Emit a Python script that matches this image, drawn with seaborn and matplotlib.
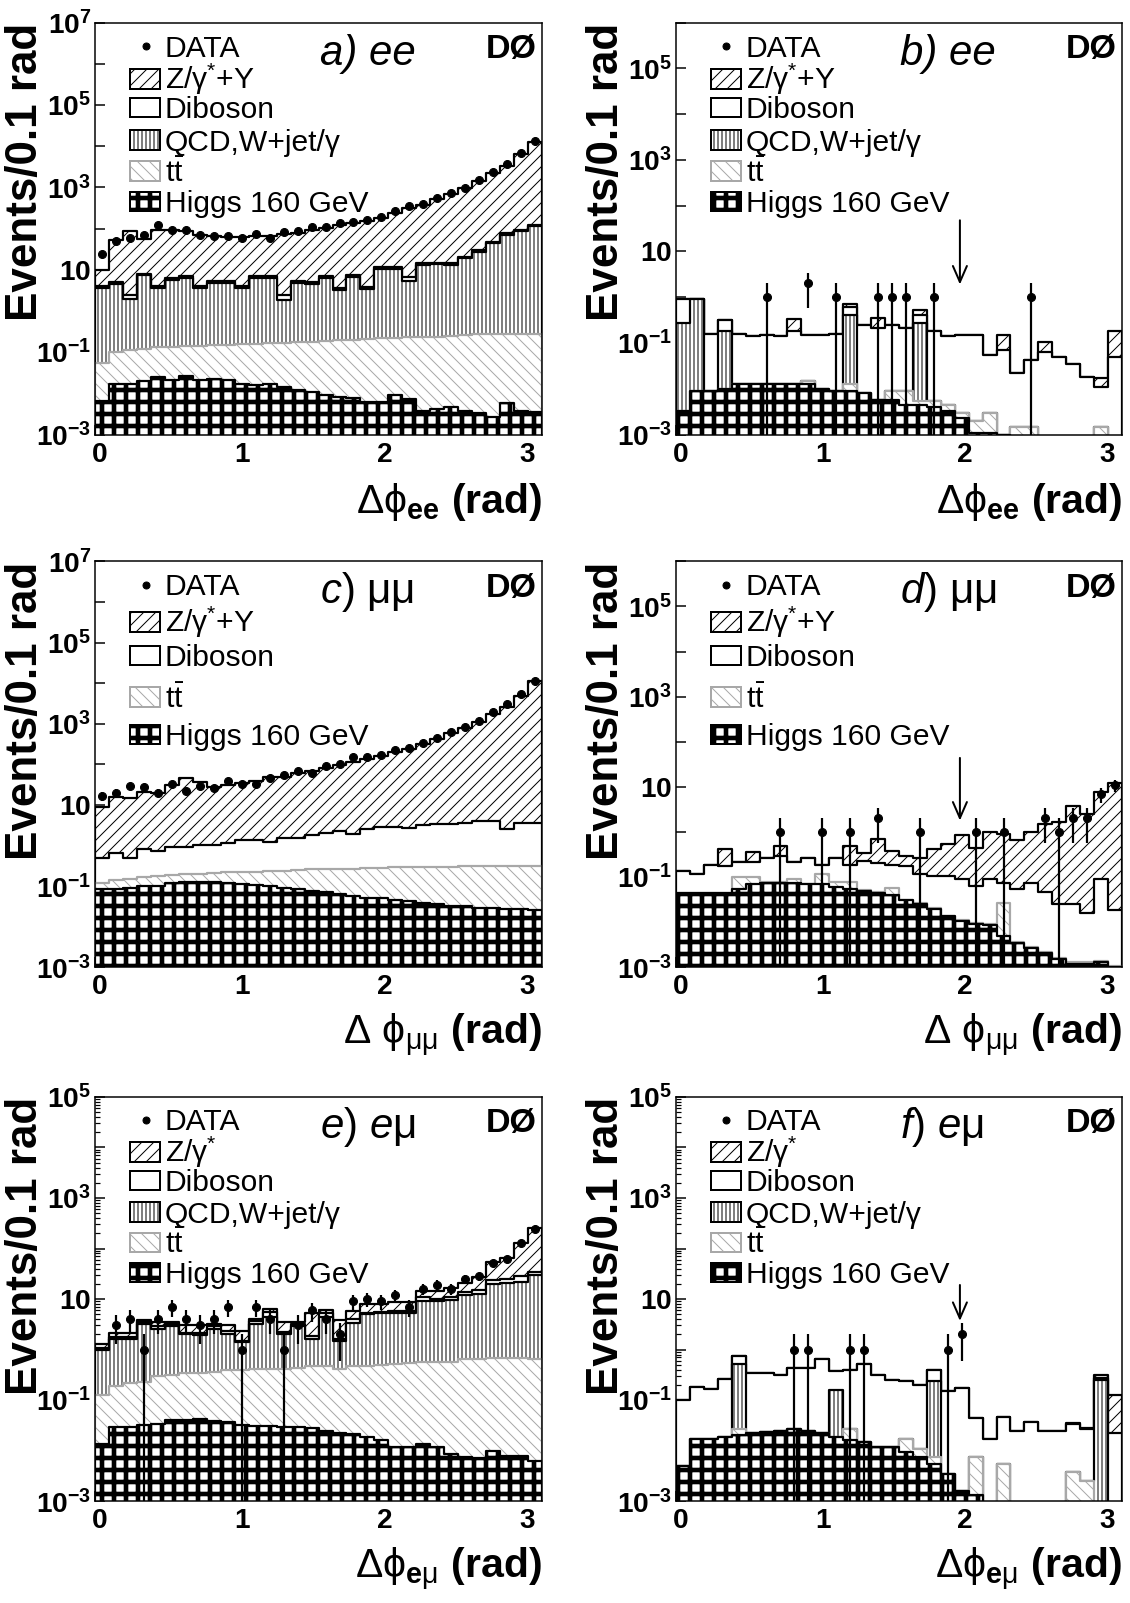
import numpy as np
import matplotlib
matplotlib.use("Agg")
import matplotlib.pyplot as plt
from matplotlib.patches import Rectangle
from matplotlib.transforms import ScaledTranslation
import seaborn as sns

# ------------------------------------------------------------------ data
N_BINS = 32
EDGES = np.linspace(0.0, np.pi, N_BINS + 1)
CENTERS = 0.5 * (EDGES[:-1] + EDGES[1:])

# Stacked heights (top of each layer): HIGGS <= TT <= QCD <= DIB <= Z

# ---- a) ee, preselection
A_DATA = [24, 49, 59, 71, 120, 94, 94, 68, 67, 67, 60, 73, 60, 82, 85, 107,
          112, 136, 144, 165, 195, 263, 350, 398, 560, 740, 980, 1500, 2350, 3600, 7000, 13500]
A_Z = [10, 52, 85, 55, 90, 90, 88, 70, 65, 62, 62, 65, 65, 75, 80, 95,
       105, 120, 135, 155, 185, 240, 310, 370, 520, 700, 950, 1400, 2200, 3300, 6500, 12500]
A_DIB = [4.0, 5.0, 2.4, 8.0, 4.0, 6.2, 7.0, 4.0, 5.2, 5.2, 4.0, 7.0, 7.0, 2.4, 5.2, 5.0,
         7.0, 3.6, 7.4, 3.8, 12, 12, 6.6, 14.5, 15, 14.5, 21, 30, 48, 78, 93, 124]
A_QCD = [3.6, 4.4, 2.0, 7.4, 3.6, 5.6, 6.2, 3.6, 4.7, 4.7, 3.6, 6.3, 6.3, 1.8, 4.7, 4.4,
         6.3, 3.2, 6.6, 3.4, 10.7, 10.7, 5.4, 13, 13.5, 13, 19, 27.5, 44, 71, 85, 113]
A_TT = [0.055, 0.10, 0.11, 0.12, 0.13, 0.13, 0.14, 0.14, 0.15, 0.15, 0.16, 0.16, 0.17, 0.17, 0.18, 0.18,
        0.19, 0.20, 0.20, 0.21, 0.22, 0.22, 0.23, 0.24, 0.24, 0.25, 0.26, 0.27, 0.27, 0.28, 0.28, 0.27]
A_HIGGS = [0.0065, 0.017, 0.017, 0.020, 0.025, 0.021, 0.026, 0.021, 0.022, 0.021, 0.017, 0.016,
           0.017, 0.014, 0.012, 0.011, 0.0092, 0.0080, 0.0078, 0.0062, 0.0062, 0.0091, 0.0072, 0.0037,
           0.0042, 0.0046, 0.0037, 0.0034, 0.0027, 0.0059, 0.0038, 0.0036]

# ---- b) ee, final selection
B_DATA = [0, 0, 0, 0, 0, 0, 1, 0, 0, 2, 0, 1, 0, 0, 1, 1,
          1, 0, 1, 0, 0, 0, 0, 0, 0, 1, 0, 0, 0, 0, 0, 0]
B_Z = [0.92, 0.90, 0.16, 0.32, 0.16, 0.14, 0.15, 0.14, 0.33, 0.15, 0.15, 0.16, 0.70, 0.25, 0.35, 0.25,
       0.21, 0.53, 0.18, 0.14, 0.15, 0.15, 0.054, 0.15, 0.022, 0.042, 0.107, 0.05, 0.034, 0.018, 0.017, 0.18]
B_DIB = [0.92, 0.90, 0.16, 0.32, 0.16, 0.14, 0.15, 0.14, 0.18, 0.15, 0.15, 0.16, 0.61, 0.25, 0.21, 0.25,
         0.21, 0.40, 0.18, 0.14, 0.15, 0.15, 0.054, 0.07, 0.022, 0.042, 0.064, 0.05, 0.034, 0.018, 0.011, 0.05]
B_QCD = [0.27, 0.90, 0.009, 0.18, 0.013, 0.013, 0.013, 0.013, 0.013, 0.015, 0.010, 0.009, 0.41, 0.008, 0.0057, 0.009,
         0.009, 0.27, 0.0055, 0.0045, 0.003, 0.002, 0.003, 0.001, 0.0015, 0.0015, 0, 0, 0, 0, 0.0015, 0]
B_TT = [0.0033, 0.009, 0.009, 0.010, 0.013, 0.013, 0.013, 0.013, 0.013, 0.015, 0.010, 0.009, 0.013, 0.008, 0.0057, 0.009,
        0.009, 0.0055, 0.0055, 0.0045, 0.003, 0.002, 0.003, 0.001, 0.0015, 0.0015, 0, 0, 0, 0, 0.0015, 0]
B_HIGGS = [0.0033, 0.009, 0.009, 0.010, 0.013, 0.013, 0.013, 0.013, 0.013, 0.013, 0.010, 0.009, 0.009, 0.008, 0.0057, 0.0057,
           0.0045, 0.0045, 0.004, 0.0033, 0.0023, 0.0011, 0.0011, 0.001, 0, 0, 0, 0, 0, 0, 0, 0]

# ---- c) mumu, preselection
C_DATA = [17, 20, 30, 28, 20, 32, 22, 30, 26, 40, 32, 33, 47, 54, 69, 62,
          91, 100, 148, 153, 174, 230, 250, 340, 455, 630, 850, 1200, 1950, 3100, 5400, 11500]
C_Z = [9, 16, 14.5, 21, 20, 31, 45, 37, 28, 31, 34, 40, 49, 49, 60, 68,
       83, 95, 115, 138, 158, 203, 245, 325, 430, 590, 800, 1100, 1750, 2650, 4900, 11500]
C_DIB = [0.49, 0.66, 0.49, 0.82, 0.75, 0.91, 0.91, 1.05, 1.05, 1.15, 1.34, 1.34, 1.25, 1.58, 1.58, 1.84,
         2.0, 2.35, 1.95, 2.5, 2.8, 2.9, 2.7, 3.25, 3.4, 3.5, 3.7, 4.0, 4.1, 2.6, 3.6, 3.6]
C_TT = [0.12, 0.14, 0.15, 0.17, 0.18, 0.19, 0.20, 0.20, 0.21, 0.22, 0.22, 0.23, 0.24, 0.24, 0.25, 0.26,
        0.26, 0.27, 0.27, 0.28, 0.28, 0.29, 0.29, 0.30, 0.30, 0.30, 0.31, 0.31, 0.32, 0.32, 0.32, 0.32]
C_HIGGS = [0.083, 0.083, 0.09, 0.10, 0.10, 0.12, 0.13, 0.13, 0.13, 0.12, 0.115, 0.105, 0.10, 0.09, 0.083, 0.075,
           0.07, 0.063, 0.057, 0.052, 0.05, 0.045, 0.043, 0.039, 0.036, 0.033, 0.032, 0.029, 0.029, 0.027, 0.027, 0.026]

# ---- d) mumu, final selection
D_DATA = [0, 0, 0, 0, 0, 0, 0, 1, 0, 0, 1, 0, 1, 0, 2, 0,
          0, 1, 0, 0, 0, 1, 0, 1, 0, 0, 2, 1, 2, 2, 7, 11]
D_Z = [0.14, 0.12, 0.19, 0.43, 0.22, 0.37, 0.27, 0.50, 0.22, 0.27, 0.19, 0.27, 0.50, 0.35, 0.69, 0.39,
       0.30, 0.27, 0.43, 0.55, 0.87, 0.45, 1.0, 0.9, 0.68, 1.0, 1.5, 1.7, 3.7, 2.5, 7.7, 12]
D_DIB = [0.14, 0.12, 0.19, 0.18, 0.22, 0.22, 0.27, 0.30, 0.22, 0.27, 0.19, 0.27, 0.19, 0.23, 0.21, 0.19,
         0.18, 0.117, 0.108, 0.108, 0.093, 0.065, 0.09, 0.076, 0.054, 0.076, 0.046, 0.025, 0.025, 0.016, 0.09, 0.019]
D_TT = [0.045, 0.045, 0.045, 0.045, 0.10, 0.10, 0.078, 0.078, 0.09, 0.072, 0.12, 0.08, 0.08, 0.052, 0.046, 0.058,
        0.032, 0.027, 0.021, 0.014, 0.011, 0.0095, 0.009, 0.027, 0.0037, 0.0028, 0.0022, 0.0016, 0.0013, 0.0013, 0.0014, 0.0011]
D_HIGGS = [0.045, 0.045, 0.045, 0.045, 0.054, 0.07, 0.076, 0.076, 0.074, 0.07, 0.07, 0.062, 0.054, 0.05, 0.045, 0.04,
           0.031, 0.026, 0.02, 0.0135, 0.0105, 0.009, 0.0085, 0.0049, 0.0035, 0.0027, 0.0021, 0.0015, 0.0012, 0.0012, 0.0013, 0.001]

# ---- e) emu, preselection
E_DATA = [0, 3, 4, 1, 4, 7, 4, 3, 4, 7, 1, 7, 4, 1, 3, 6,
          4, 2, 9, 10, 9, 12, 7, 16, 19, 16, 25, 28, 51, 63, 130, 240]
E_Z = [1.28, 2.15, 2.15, 3.9, 3.5, 3.5, 3.05, 3.05, 3.2, 3.05, 2.35, 4.0, 6.4, 3.5, 3.5, 5.4,
       6.0, 3.8, 5.7, 8.1, 8.1, 8.6, 8.8, 14.5, 14.5, 16.6, 20.5, 27.7, 55, 66, 130, 255]
E_DIB = [1.09, 1.74, 1.74, 3.5, 2.9, 3.2, 2.15, 2.15, 2.9, 2.35, 1.48, 3.7, 5.5, 2.2, 3.2, 1.88,
         5.4, 1.6, 4.1, 5.4, 5.6, 5.8, 5.8, 11, 10, 11, 13.8, 14.8, 23.6, 25, 28, 35]
E_QCD = [1.0, 1.6, 1.6, 3.2, 2.5, 2.9, 2.0, 1.95, 2.5, 2.0, 1.4, 3.2, 4.4, 2.0, 2.9, 1.6,
         4.4, 1.5, 3.4, 5.1, 5.2, 5.2, 5.2, 9.0, 9.0, 9.4, 11.8, 12.5, 20, 20.5, 21.5, 30]
E_TT = [0.127, 0.19, 0.22, 0.23, 0.30, 0.31, 0.34, 0.35, 0.36, 0.40, 0.40, 0.41, 0.42, 0.42, 0.44, 0.47,
        0.48, 0.42, 0.47, 0.48, 0.50, 0.53, 0.55, 0.56, 0.58, 0.58, 0.66, 0.66, 0.68, 0.68, 0.68, 0.66]
E_HIGGS = [0.0137, 0.029, 0.029, 0.032, 0.034, 0.041, 0.041, 0.043, 0.039, 0.037, 0.032, 0.031, 0.031, 0.030, 0.029, 0.028,
           0.025, 0.022, 0.021, 0.019, 0.016, 0.0117, 0.0117, 0.0137, 0.0117, 0.0086, 0.0076, 0.0073, 0.0097, 0.008, 0.008, 0.0063]

# ---- f) emu, final selection
F_DATA = [0, 0, 0, 0, 0, 0, 0, 0, 1, 1, 0, 0, 1, 1, 0, 0,
          0, 0, 0, 1, 2, 0, 0, 0, 0, 0, 0, 0, 0, 0, 0, 0]
F_Z = [0.10, 0.18, 0.166, 0.26, 0.745, 0.35, 0.35, 0.32, 0.43, 0.43, 0.64, 0.37, 0.40, 0.53, 0.32, 0.25,
       0.235, 0.20, 0.40, 0.155, 0.17, 0.044, 0.0174, 0.047, 0.025, 0.037, 0.025, 0.025, 0.036, 0.028, 0.31, 0.127]
F_DIB = [0.10, 0.18, 0.166, 0.26, 0.745, 0.35, 0.35, 0.32, 0.43, 0.43, 0.64, 0.37, 0.40, 0.53, 0.32, 0.25,
         0.235, 0.20, 0.40, 0.155, 0.17, 0.044, 0.0174, 0.047, 0.025, 0.037, 0.025, 0.025, 0.034, 0.027, 0.27, 0.022]
F_QCD = [0.005, 0.017, 0.017, 0.019, 0.51, 0.022, 0.023, 0.024, 0.027, 0.024, 0.022, 0.16, 0.027, 0.015, 0.012, 0.012,
         0.017, 0.011, 0.235, 0.0034, 0.0016, 0.0074, 0, 0.0055, 0, 0, 0, 0, 0.0037, 0.0025, 0.25, 0]
F_TT = [0.005, 0.017, 0.017, 0.019, 0.027, 0.022, 0.023, 0.024, 0.027, 0.024, 0.022, 0.019, 0.027, 0.015, 0.012, 0.012,
        0.017, 0.011, 0.0074, 0.0034, 0.0016, 0.0074, 0, 0.0055, 0, 0, 0, 0, 0.0037, 0.0025, 0, 0]
F_HIGGS = [0.005, 0.017, 0.017, 0.019, 0.020, 0.022, 0.023, 0.024, 0.027, 0.024, 0.022, 0.019, 0.016, 0.015, 0.012, 0.012,
           0.0093, 0.0074, 0.0055, 0.0034, 0.0016, 0.0013, 0, 0, 0, 0, 0, 0, 0, 0, 0, 0]

# cut arrows (x, y_start, y_tip) for the final-selection panels
ARROW_B = (2.0, 48.0, 1.9)
ARROW_D = (2.0, 44.0, 1.8)
ARROW_F = (2.0, 19.0, 3.7)

# ------------------------------------------------------------------ text
LBL_Z_Y = "Z/γ$^{*}$+Υ"
LBL_Z = "Z/γ$^{*}$"
LBL_DIB = "Diboson"
LBL_QCD = "QCD,W+jet/γ"
LBL_TT = r"$\mathrm{t\bar{t}}$"
LBL_H = "Higgs 160 GeV"
YTITLE = "Events/0.1 rad"
XT_EE = r"$\Delta\mathrm{\phi}_{\mathbf{ee}}$ (rad)"
XT_MM = r"$\Delta\ \mathrm{\phi}_{\mathrm{\mu\mu}}$ (rad)"
XT_EM = r"$\Delta\mathrm{\phi}_{\mathbf{e}\mathrm{\mu}}$ (rad)"

# ------------------------------------------------------------------ style
sns.set_theme(style="white")
plt.rcParams.update({
    "font.family": ["Liberation Sans", "DejaVu Sans"],
    "mathtext.fontset": "custom",
    "mathtext.rm": "Liberation Sans",
    "mathtext.it": "Liberation Sans:italic",
    "mathtext.bf": "Liberation Sans:bold",
    "mathtext.sf": "Liberation Sans",
    "text.color": "black",
    "axes.labelcolor": "black",
    "xtick.color": "black",
    "ytick.color": "black",
    "axes.edgecolor": "black",
    "axes.linewidth": 1.5,
    "hatch.linewidth": 1.0,
})

DPI = 72
LW = 2.2
STYLES = {
    "z": dict(facecolor="white", edgecolor="black", hatch="//", hlw=1.0),
    "dib": dict(facecolor="white", edgecolor="black", hatch=None, hlw=1.0),
    "qcd": dict(facecolor="white", edgecolor="black", hatch="|||", hlw=1.0),
    "tt": dict(facecolor="white", edgecolor="#a8a8a8", hatch="\\\\", hlw=1.0),
    "higgs": dict(facecolor="white", edgecolor="black", hatch="+", hlw=4.6),
}

LEG5 = [0.943, 0.864, 0.794, 0.715, 0.640, 0.566]
LEG4 = [0.943, 0.851, 0.768, 0.666, 0.573]

PANELS = [
    dict(pos=[0.0841, 0.7289, 0.3956, 0.2570], data=A_DATA, z=A_Z, dib=A_DIB, qcd=A_QCD, tt=A_TT, higgs=A_HIGGS,
         ytop=7, minor=False, tag="a) ee", tag_style="italic", xt=XT_EE, zlabel=LBL_Z_Y, arrow=None, leg=LEG5),
    dict(pos=[0.5982, 0.7289, 0.3947, 0.2570], data=B_DATA, z=B_Z, dib=B_DIB, qcd=B_QCD, tt=B_TT, higgs=B_HIGGS,
         ytop=6, minor=False, tag="b) ee", tag_style="italic", xt=XT_EE, zlabel=LBL_Z_Y, arrow=ARROW_B, leg=LEG5),
    dict(pos=[0.0841, 0.3965, 0.3956, 0.2533], data=C_DATA, z=C_Z, dib=C_DIB, qcd=None, tt=C_TT, higgs=C_HIGGS,
         ytop=7, minor=False, tag=r"$\mathit{c)}$ μμ", tag_style="normal", xt=XT_MM, zlabel=LBL_Z_Y, arrow=None, leg=LEG4),
    dict(pos=[0.5982, 0.3965, 0.3947, 0.2533], data=D_DATA, z=D_Z, dib=D_DIB, qcd=None, tt=D_TT, higgs=D_HIGGS,
         ytop=6, minor=False, tag=r"$\mathit{d)}$ μμ", tag_style="normal", xt=XT_MM, zlabel=LBL_Z_Y, arrow=ARROW_D, leg=LEG4),
    dict(pos=[0.0841, 0.0635, 0.3956, 0.2522], data=E_DATA, z=E_Z, dib=E_DIB, qcd=E_QCD, tt=E_TT, higgs=E_HIGGS,
         ytop=5, minor=True, tag=r"$\mathit{e)\ e}$μ", tag_style="normal", xt=XT_EM, zlabel=LBL_Z, arrow=None, leg=LEG5),
    dict(pos=[0.5982, 0.0635, 0.3947, 0.2522], data=F_DATA, z=F_Z, dib=F_DIB, qcd=F_QCD, tt=F_TT, higgs=F_HIGGS,
         ytop=5, minor=True, tag=r"$\mathit{f)\ e}$μ", tag_style="normal", xt=XT_EM, zlabel=LBL_Z, arrow=ARROW_F, leg=LEG5),
]


def exp_label(e):
    if e % 2 == 0:
        return ""
    if e == 1:
        return r"$\mathbf{10}$"
    return r"$\mathbf{10^{%d}}$" % e


BIN_LIST = EDGES.tolist()


def draw_layer(ax, heights, key, zorder):
    st = STYLES[key]
    n0 = len(ax.collections)
    with plt.rc_context({"hatch.linewidth": st["hlw"]}):
        sns.histplot(x=CENTERS, weights=np.asarray(heights, float), bins=BIN_LIST,
                     element="step", fill=True, ax=ax,
                     facecolor=st["facecolor"], edgecolor=st["edgecolor"],
                     linewidth=LW, hatch=st["hatch"], zorder=zorder)
    for art in ax.collections[n0:]:
        if hasattr(art, "set_hatch_linewidth"):
            art.set_hatch_linewidth(st["hlw"])


BOX_X0, BOX_W, BOX_H = 0.078, 0.068, 0.048
TXT_X = 0.156


def legend_box(ax, key, yc):
    st = STYLES[key]
    with plt.rc_context({"hatch.linewidth": st["hlw"]}):
        r = Rectangle((BOX_X0, yc - BOX_H / 2), BOX_W, BOX_H, transform=ax.transAxes,
                      facecolor=st["facecolor"], edgecolor=st["edgecolor"],
                      hatch=st["hatch"], linewidth=2.0, clip_on=False, zorder=20)
    if hasattr(r, "set_hatch_linewidth"):
        r.set_hatch_linewidth(st["hlw"])
    ax.add_patch(r)


fig = plt.figure(figsize=(1130 / DPI, 1603 / DPI), dpi=DPI)
fig.patch.set_facecolor("white")
XLAB_SHIFT = ScaledTranslation(5 / DPI, 0, fig.dpi_scale_trans)

LEG_FS = 30
for p in PANELS:
    ax = fig.add_axes(p["pos"])
    ax.set_facecolor("white")
    layers = [("z", p["z"]), ("dib", p["dib"])]
    if p["qcd"] is not None:
        layers.append(("qcd", p["qcd"]))
    layers += [("tt", p["tt"]), ("higgs", p["higgs"])]
    for i, (key, h) in enumerate(layers):
        draw_layer(ax, h, key, 2 + i)

    data = np.asarray(p["data"], float)
    m = data > 0
    y = data[m]
    err = np.sqrt(y)
    lo = np.minimum(err, y - 1e-6)
    ax.errorbar(CENTERS[m], y, yerr=[lo, err], fmt="o", color="black", ms=8,
                elinewidth=2.2, capsize=0, zorder=12)

    ax.set_yscale("log")
    ax.set_xlim(0, np.pi)
    ax.set_ylim(1e-3, 10.0 ** p["ytop"])
    exps = np.arange(-3, p["ytop"] + 1)
    ax.set_yticks(10.0 ** exps, labels=[exp_label(e) for e in exps])
    if p["minor"]:
        ax.set_yticks([k * 10.0 ** e for e in range(-3, p["ytop"]) for k in range(2, 10)], minor=True)
    else:
        ax.set_yticks([], minor=True)
    ax.set_xticks([0, 1, 2, 3], labels=["0", "1", "2", "3"])
    ax.tick_params(axis="both", which="major", direction="in", length=10, width=1.5,
                   labelsize=28, left=True, bottom=True, right=False, top=False)
    ax.tick_params(axis="x", which="major", pad=7)
    ax.tick_params(axis="y", which="major", pad=4)
    ax.tick_params(axis="y", which="minor", direction="in", length=5, width=1.2,
                   left=True, right=False)
    for lab in ax.get_xticklabels():
        lab.set_fontweight("bold")
        lab.set_transform(lab.get_transform() + XLAB_SHIFT)
    ax.set_xlabel("")
    ax.set_ylabel("")
    for s in ax.spines.values():
        s.set_visible(True)
        s.set_linewidth(1.5)
        s.set_zorder(15)

    # titles
    ax.text(-0.156, 1.0, YTITLE, transform=ax.transAxes, rotation=90, ha="center", va="top",
            fontsize=44, fontweight="bold")
    ax.text(1.0, -0.19, p["xt"], transform=ax.transAxes, ha="right", va="baseline",
            fontsize=41, fontweight="bold")
    ax.text(0.503, 0.898, p["tag"], transform=ax.transAxes, ha="left", va="baseline",
            fontsize=42, fontstyle=p["tag_style"], zorder=20)
    ax.text(0.988, 0.913, "DØ", transform=ax.transAxes, ha="right", va="baseline",
            fontsize=34, fontweight="bold", zorder=20)

    # legend
    ly = p["leg"]
    ax.plot([0.113], [ly[0]], "o", color="black", ms=7, transform=ax.transAxes,
            clip_on=False, zorder=20)
    ax.text(TXT_X, ly[0] - 0.026, "DATA", transform=ax.transAxes, ha="left", va="baseline",
            fontsize=LEG_FS, zorder=20)
    entries = [("z", p["zlabel"]), ("dib", LBL_DIB)]
    if p["qcd"] is not None:
        entries.append(("qcd", LBL_QCD))
    entries += [("tt", LBL_TT), ("higgs", LBL_H)]
    for (key, label), yc in zip(entries, ly[1:]):
        legend_box(ax, key, yc)
        ax.text(TXT_X, yc - 0.026, label, transform=ax.transAxes, ha="left", va="baseline",
                fontsize=LEG_FS, zorder=20)

    if p["arrow"] is not None:
        xa, y0, y1 = p["arrow"]
        ax.annotate("", xy=(xa, y1), xytext=(xa, y0),
                    arrowprops=dict(arrowstyle="->,head_length=0.8,head_width=0.35",
                                    color="black", lw=2.0, shrinkA=0, shrinkB=0,
                                    mutation_scale=20),
                    zorder=14)

fig.savefig("out.png", dpi=DPI, facecolor="white")
